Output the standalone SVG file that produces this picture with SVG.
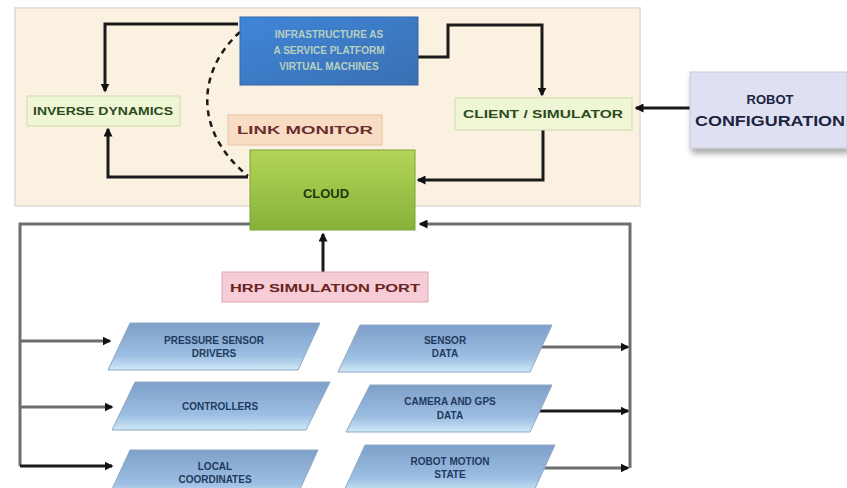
<svg xmlns="http://www.w3.org/2000/svg" width="847" height="488" viewBox="0 0 847 488">
  <style>
    .lbl { font-family: "Liberation Sans", Arial, sans-serif; font-weight: bold; text-anchor: middle; }
    .wire { fill: none; stroke: #1a1a1a; stroke-width: 3; }
    .bus { fill: none; stroke: #6e6e6e; stroke-width: 3; }
    .dash { fill: none; stroke: #1a1a1a; stroke-width: 2.5; stroke-dasharray: 6 5; }
    .para { stroke: #8fa7c4; stroke-width: 1; }
    .ptxt { font-size: 10px; fill: #1f3a5e; }
  </style>
  <defs>
    <marker id="arr" viewBox="0 0 6 6" refX="5" refY="3" markerWidth="3" markerHeight="3" orient="auto">
      <path d="M0,0 L6,3 L0,6 Z" fill="#111"/>
    </marker>
    <linearGradient id="gBlue" x1="0" y1="0" x2="1" y2="1">
      <stop offset="0" stop-color="#3f86d8"/>
      <stop offset="1" stop-color="#3a6fb2"/>
    </linearGradient>
    <linearGradient id="gGreen" x1="0" y1="0" x2="0" y2="1">
      <stop offset="0" stop-color="#b3d557"/>
      <stop offset="1" stop-color="#86b23a"/>
    </linearGradient>
    <linearGradient id="gPara" x1="0" y1="0" x2="0" y2="1">
      <stop offset="0" stop-color="#7e9fc8"/>
      <stop offset="0.7" stop-color="#9dbfe3"/>
      <stop offset="1" stop-color="#cfe9f8"/>
    </linearGradient>
    <filter id="shadow" x="-10%" y="-10%" width="125%" height="140%">
      <feGaussianBlur in="SourceAlpha" stdDeviation="3"/>
      <feOffset dx="2" dy="5"/>
      <feComponentTransfer><feFuncA type="linear" slope="0.35"/></feComponentTransfer>
      <feMerge><feMergeNode/><feMergeNode in="SourceGraphic"/></feMerge>
    </filter>
  </defs>

  <rect width="847" height="488" fill="#ffffff"/>
  <!-- upper panel -->
  <rect x="15" y="8" width="625" height="198" fill="#fbf1e0" stroke="#e6e0d6" stroke-width="2"/>

  <g id="connectors">
    <!-- left loop -->
    <polyline class="wire" points="238,24 105,24 105,91" marker-end="url(#arr)"/>
    <polyline class="wire" points="248,177 108,177 108,129" marker-end="url(#arr)"/>
    <path class="dash" d="M240,32 C198,70 192,130 248,176"/>
    <!-- right loop -->
    <polyline class="wire" points="418,57 448,57 448,25 542,25 542,95" marker-end="url(#arr)"/>
    <polyline class="wire" points="543,130 543,180 418,180" marker-end="url(#arr)"/>
    <line class="wire" x1="690" y1="108" x2="636" y2="108" stroke="#555" marker-end="url(#arr)"/>
    <!-- bottom bus -->
    <polyline class="bus" points="250,224 20,224 20,466"/>
    <line class="bus" x1="20" y1="341" x2="110" y2="341" marker-end="url(#arr)"/>
    <line class="bus" x1="20" y1="407" x2="112" y2="407" marker-end="url(#arr)"/>
    <line class="wire" x1="20" y1="466" x2="112" y2="466" marker-end="url(#arr)"/>
    <polyline class="bus" points="630,347 630,224 420,224" marker-end="url(#arr)"/>
    <polyline class="bus" points="630,347 630,468"/>
    <line class="bus" x1="535" y1="347" x2="628" y2="347" marker-end="url(#arr)"/>
    <line class="wire" x1="535" y1="411" x2="628" y2="411" marker-end="url(#arr)"/>
    <line class="bus" x1="535" y1="468" x2="628" y2="468" marker-end="url(#arr)"/>
    <line class="wire" x1="323" y1="272" x2="323" y2="234" stroke="#555" marker-end="url(#arr)"/>
  </g>

  <g id="infra">
    <rect x="240" y="17" width="178" height="68" fill="url(#gBlue)" stroke="#3568a8"/>
    <text class="lbl" x="329" y="38" font-size="10" fill="#b9d0c0">INFRASTRUCTURE AS</text>
    <text class="lbl" x="329" y="54" font-size="10" fill="#b9d0c0">A SERVICE PLATFORM</text>
    <text class="lbl" x="329" y="70" font-size="10" fill="#b9d0c0">VIRTUAL MACHINES</text>
  </g>

  <g id="dynamics">
    <rect x="27" y="96" width="153" height="30" fill="#eef6d6" stroke="#cfdcb0"/>
    <text class="lbl" x="103" y="115" font-size="10.5" fill="#2f4a1c" textLength="140" lengthAdjust="spacingAndGlyphs">INVERSE DYNAMICS</text>
  </g>

  <g id="simulator">
    <rect x="455" y="98" width="177" height="32" fill="#eef6d6" stroke="#cfdcb0"/>
    <text class="lbl" x="543" y="118" font-size="10.5" fill="#2f4a1c" textLength="160" lengthAdjust="spacingAndGlyphs">CLIENT / SIMULATOR</text>
  </g>

  <g id="monitor">
    <rect x="228" y="115" width="154" height="30" fill="#f9dcc4" stroke="#e7c2a2"/>
    <text class="lbl" x="305" y="134" font-size="10.5" fill="#6a2e2e" textLength="136" lengthAdjust="spacingAndGlyphs">LINK MONITOR</text>
  </g>

  <g id="cloud">
    <rect x="250" y="150" width="165" height="80" fill="url(#gGreen)" stroke="#7ea23a"/>
    <text class="lbl" x="326" y="198" font-size="13" fill="#1f3a10">CLOUD</text>
  </g>

  <g id="robot-config">
    <rect x="690" y="72" width="157" height="76" fill="#dfe1f2" stroke="#c8cadc" filter="url(#shadow)"/>
    <text class="lbl" x="770" y="104" font-size="13" fill="#1c2440">ROBOT</text>
    <text class="lbl" x="770" y="126" font-size="14" fill="#1c2440" textLength="150" lengthAdjust="spacingAndGlyphs">CONFIGURATION</text>
  </g>

  <g id="sim-port">
    <rect x="222" y="272" width="206" height="30" fill="#f6cdd6" stroke="#dea9b4"/>
    <text class="lbl" x="325" y="292" font-size="11" fill="#6a2320" textLength="190" lengthAdjust="spacingAndGlyphs">HRP SIMULATION PORT</text>
  </g>

  <g id="pressure">
    <polygon class="para" points="130,323 320,323 298,370 108,370" fill="url(#gPara)"/>
    <text class="lbl ptxt" x="214" y="344">PRESSURE SENSOR</text>
    <text class="lbl ptxt" x="214" y="357">DRIVERS</text>
  </g>
  <g id="sensor-data">
    <polygon class="para" points="360,325 552,325 530,372 338,372" fill="url(#gPara)"/>
    <text class="lbl ptxt" x="445" y="344">SENSOR</text>
    <text class="lbl ptxt" x="445" y="357">DATA</text>
  </g>
  <g id="controllers">
    <polygon class="para" points="135,382 330,382 306,430 112,430" fill="url(#gPara)"/>
    <text class="lbl ptxt" x="220" y="410">CONTROLLERS</text>
  </g>
  <g id="camera">
    <polygon class="para" points="370,385 552,385 530,432 346,432" fill="url(#gPara)"/>
    <text class="lbl ptxt" x="450" y="405">CAMERA AND GPS</text>
    <text class="lbl ptxt" x="450" y="419">DATA</text>
  </g>
  <g id="local">
    <polygon class="para" points="130,450 318,450 296,498 108,498" fill="url(#gPara)"/>
    <text class="lbl ptxt" x="215" y="470">LOCAL</text>
    <text class="lbl ptxt" x="215" y="483">COORDINATES</text>
  </g>
  <g id="motion">
    <polygon class="para" points="365,445 555,445 533,493 343,493" fill="url(#gPara)"/>
    <text class="lbl ptxt" x="450" y="465">ROBOT MOTION</text>
    <text class="lbl ptxt" x="450" y="478">STATE</text>
  </g>
</svg>
